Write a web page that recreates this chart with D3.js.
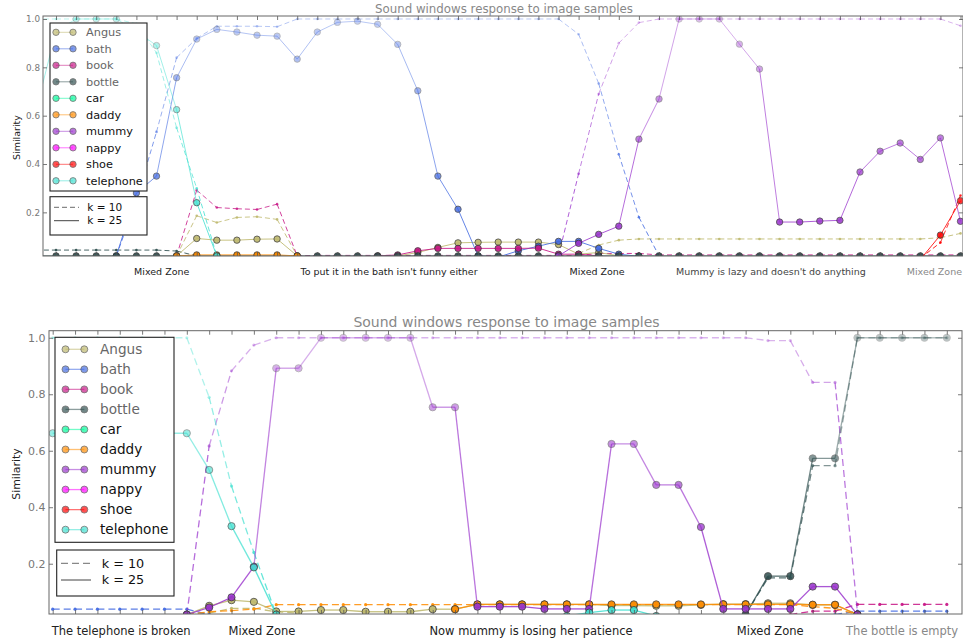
<!doctype html>
<html>
<head>
<meta charset="utf-8">
<script src="https://cdnjs.cloudflare.com/ajax/libs/d3/7.8.5/d3.min.js"></script>
<style>
  body { margin: 0; background: #fff; }
  svg { display: block; font-family: "DejaVu Sans", sans-serif; }
</style>
</head>
<body>
<svg width="963" height="644"></svg>
<script>
var _ = null;
var words = ["Angus", "bath", "book", "bottle", "car", "daddy", "mummy", "nappy", "shoe", "telephone"];
var wordColors = ["#bdb76b", "#4169e1", "#c71585", "#2f4f4f", "#00fa9a", "#ff8c00", "#9932cc", "#ff00ff", "#ff0000", "#40e0d0"];

// ---- top panel, samples -1..45 ----
var topLabels = ["Mixed Zone", "To put it in the bath isn't funny either", "Mixed Zone", "Mummy is lazy and doesn't do anything", "Mixed Zone"];
var topLabelAt = [5.26, 16.57, 26.92, 35.57, 43.7];

var topAngus10 = [_, _, _, _, _, _, _, .02, .186, .158,
  .179, .182, .171, .02, _, _, _, _, _, _,
  _, _, _, _, _, _, _, .03, .065, .085,
  .09, .09, .09, .09, .09, .09, .09, .09, .09, .09,
  .09, .09, .09, .09, .09, .095, .113];
var topAngus25 = [_, _, _, _, _, _, _, .02, .092, .085,
  .085, .089, .09, .02, _, _, _, _, .02, .034,
  .055, .074, .076, .077, .077, .077, .067, .027, .034, .02,
  _, _, _, _, _, _, _, _, _, _,
  _, _, _, _, _, _, _];
var topBath10 = [_, _, _, _, .02, .25, .533, .84, .92, .97,
  .97, .97, .968, 1, 1, 1, 1, 1, 1, 1,
  1, 1, 1, 1, 1, 1, 1, .937, .733, .44,
  .18, .02, _, _, _, _, _, _, _, _,
  _, _, _, _, _, _, _];
var topBath25 = [_, _, _, _, .02, .28, .35, .757, .917, .957,
  .946, .933, .929, .834, .946, .986, .991, .978, .895, .703,
  .35, .213, .02, .015, .041, .06, .08, .08, .051, .027,
  .018, _, _, _, _, _, _, _, _, _,
  _, _, _, _, _, _, _];
var topBook10 = [_, _, _, _, _, _, _, .02, .292, .22,
  .215, .212, .234, .02, .022, .022, .022, .022, .022, .022,
  .022, .022, .022, .022, .022, .022, .022, .022, .03, .03,
  .03, .024, .024, .024, .024, .024, .024, .024, .024, .024,
  .024, .024, .024, .024, .024, .024, .024];
var topBook25 = [_, _, _, _, _, _, _, _, _, _,
  _, _, _, _, _, _, _, .02, .024, .041,
  .051, .051, .051, .051, .051, .052, .027, .027, .02, _,
  _, _, _, _, _, _, _, _, _, _,
  _, _, _, _, _, _, _];
var topBottle10 = [.044, .044, .044, .044, .044, .044, .044, .04, .02, _,
  _, _, _, _, _, _, _, _, _, _,
  _, _, _, _, _, _, _, _, _, _,
  _, _, _, _, _, _, _, _, _, _,
  _, _, _, _, _, _, _];
var topBottle25 = [.02, .02, .02, .02, .02, .02, .02, .02, .02, .02,
  .02, .02, .02, .02, .02, .02, .02, .02, .02, .02,
  .02, .02, .02, .02, .02, .02, .02, .02, .02, .02,
  .02, .02, .02, .02, .02, .02, .02, .02, .02, .02,
  .02, .02, .02, .02, .02, .02, .02];
var topDaddy25 = [_, _, _, _, _, _, _, .02, .024, .024,
  .024, .024, .024, .02, _, _, _, _, _, _,
  _, _, _, _, _, _, _, _, _, _,
  _, _, _, _, _, _, _, _, _, _,
  _, _, _, _, _, _, _];
var topMummy10 = [_, _, _, _, _, _, _, _, _, _,
  _, _, _, _, _, _, _, _, _, _,
  _, _, _, _, _, _, .02, .36, .69, .9,
  .985, 1, 1, 1, 1, 1, 1, 1, 1, 1,
  1, 1, 1, 1, 1, 1, .972];
var topMummy25 = [_, _, _, _, _, _, _, _, _, _,
  _, _, _, _, _, _, _, _, _, _,
  _, _, _, _, _, _, .02, .072, .109, .143,
  .503, .669, 1, 1, 1, .896, .793, .16, .16, .164,
  .167, .367, .453, .487, .419, .508, .163];
var topShoe10 = [_, _, _, _, _, _, _, _, _, _,
  _, _, _, _, _, _, _, _, _, _,
  _, _, _, _, _, _, _, _, _, _,
  _, _, _, _, _, _, _, _, _, _,
  _, _, _, _, .01, .075, .27];
var topShoe25 = [_, _, _, _, _, _, _, _, _, _,
  _, _, _, _, _, _, _, _, _, _,
  _, _, _, _, _, _, _, _, _, _,
  _, _, _, _, _, _, _, _, _, _,
  _, _, _, _, .005, .106, .248];
var topTelephone10 = [1, 1, 1, 1, 1, .98, .86, .55, .3, .02,
  _, _, _, _, _, _, _, _, _, _,
  _, _, _, _, _, _, _, _, _, _,
  _, _, _, _, _, _, _, _, _, _,
  _, _, _, _, _, _, _];
var topTelephone25 = [.62, .95, 1, 1, 1, .95, .89, .625, .24, .02,
  _, _, _, _, _, _, _, _, _, _,
  _, _, _, _, _, _, _, _, _, _,
  _, _, _, _, _, _, _, _, _, _,
  _, _, _, _, _, _, _];

// ---- bottom panel, samples 0..40 ----
var botLabels = ["The telephone is broken", "Mixed Zone", "Now mummy is losing her patience", "Mixed Zone", "The bottle is empty"];
var botLabelAt = [3.06, 9.36, 21.4, 32.1, 38.0];

var botAngus10 = [_, _, _, _, _, _, .02, .025, .042, .042,
  .03, .025, _, _, _, _, _, _, _, _,
  _, _, _, _, _, _, _, _, _, _,
  _, _, _, _, _, _, _, _, _, _,
  _];
var botAngus25 = [_, _, _, _, _, _, .02, .051, .071, .065,
  .031, .031, .036, .036, .03, .03, .03, .039, .039, .056,
  .056, .056, .056, .056, .056, .052, .052, .051, .051, .054,
  .057, .057, .06, .06, .054, .054, .02, _, _, _,
  _];
var botBath10 = [.039, .039, .039, .039, .039, .039, .039, .02, _, _,
  _, _, _, _, _, _, _, _, _, _,
  _, _, _, _, _, _, _, _, _, _,
  _, _, _, _, _, .02, .032, .032, .032, .032,
  .032];
var botBook10 = [_, _, _, _, _, _, _, _, _, _,
  _, _, _, _, _, _, _, _, _, _,
  _, _, _, _, _, _, _, _, _, _,
  _, _, _, .02, .032, .032, .056, .056, .056, .056,
  .056];
var botBottle10 = [_, _, _, _, _, _, _, _, _, _,
  _, _, _, _, _, _, _, _, _, _,
  _, _, _, _, _, _, _, _, _, _,
  _, .02, .15, .15, .547, .547, 1, 1, 1, 1,
  1];
var botBottle25 = [_, _, _, _, _, _, _, _, _, _,
  _, _, _, _, _, _, _, _, _, _,
  _, _, _, _, _, _, _, _, _, _,
  _, .02, .156, .156, .573, .573, 1, 1, 1, 1,
  1];
var botDaddy10 = [_, _, _, _, _, _, .02, .03, .034, .039,
  .055, .055, .055, .055, .055, .055, .055, .055, .055, .055,
  .055, .055, .055, .055, .055, .055, .055, .055, .055, .055,
  .055, .055, .055, .055, .048, .042, .02, _, _, _,
  _];
var botDaddy25 = [_, _, _, _, _, _, _, _, _, _,
  _, _, _, _, _, _, _, _, .039, .056,
  .056, .056, .056, .056, .056, .056, .056, .056, .056, .056,
  .056, .056, .056, .056, .055, .055, .02, _, _, _,
  _];
var botMummy10 = [_, _, _, _, _, _, .02, .617, .883, .974,
  1, 1, 1, 1, 1, 1, 1, 1, 1, 1,
  1, 1, 1, 1, 1, 1, 1, 1, 1, 1,
  1, 1, .99, .99, .842, .842, .03, _, _, _,
  _];
var botMummy25 = [_, _, _, _, _, _, .02, .045, .081, .19,
  .892, .892, 1, 1, 1, 1, 1, .754, .754, .048,
  .048, .048, .04, .04, .04, .624, .624, .479, .479, .33,
  .04, .04, .04, .04, .119, .119, .02, _, _, _,
  _];
var botTelephone10 = [1, 1, 1, 1, 1, 1, 1, .789, .475, .24,
  .02, _, _, _, _, _, _, _, _, _,
  _, _, _, _, _, _, _, _, _, _,
  _, _, _, _, _, _, _, _, _, _,
  _];
var botTelephone25 = [.662, .662, .662, .662, .662, .662, .662, .532, .333, .187,
  .02, _, _, _, _, _, _, _, _, _,
  _, _, _, .015, .027, .036, .036, .015, _, _,
  _, _, _, _, _, _, _, _, _, _,
  _];

var yTicks = [0.2, 0.4, 0.6, 0.8, 1.0];

var svg = d3.select("svg");

// higher similarity -> paler mark
function markAlpha(v) { return Math.max(0.32, 0.95 - 0.63 * v); }
function lineAlpha(v) { return Math.max(0.32, 0.88 - 0.52 * v); }

function drawPanel(cfg) {
  var g = svg.append("g");
  var x = d3.scaleLinear().domain(cfg.xDomain).range([cfg.left, cfg.right]);
  var y = d3.scaleLinear().domain(cfg.yDomain).range([cfg.bottom, cfg.top]);

  g.append("clipPath").attr("id", cfg.id).append("rect")
    .attr("x", cfg.left).attr("y", cfg.top)
    .attr("width", cfg.right - cfg.left).attr("height", cfg.bottom - cfg.top);
  var plot = g.append("g").attr("clip-path", "url(#" + cfg.id + ")");

  // k = 10 first, then k = 25 on top
  var order = cfg.series.filter(s => s.k == 10).concat(cfg.series.filter(s => s.k == 25));
  order.forEach(s => {
    var color = wordColors[words.indexOf(s.word)];
    var pts = s.values.map((v, n) => ({ i: cfg.first + n, v: v }));
    var segs = d3.pairs(pts).filter(p => p[0].v != null && p[1].v != null);
    var sg = plot.append("g");
    sg.selectAll("line").data(segs).enter().append("line")
      .attr("x1", d => x(d[0].i)).attr("y1", d => y(d[0].v))
      .attr("x2", d => x(d[1].i)).attr("y2", d => y(d[1].v))
      .attr("stroke", color)
      .attr("stroke-opacity", d => lineAlpha((d[0].v + d[1].v) / 2))
      .attr("stroke-width", cfg.lineWidth)
      .attr("stroke-dasharray", s.k == 10 ? cfg.dash : null);
    sg.selectAll("circle").data(pts.filter(d => d.v != null)).enter().append("circle")
      .attr("cx", d => x(d.i)).attr("cy", d => y(d.v))
      .attr("r", s.k == 10 ? cfg.smallR : cfg.markerR)
      .attr("fill", color)
      .attr("stroke", s.k == 10 ? "none" : "#333")
      .attr("stroke-width", 0.8)
      .attr("opacity", d => markAlpha(d.v));
  });

  // inward ticks on all four sides
  var xt = d3.range(Math.ceil(cfg.xDomain[0]), Math.floor(cfg.xDomain[1]) + 1);
  g.append("g").attr("transform", "translate(0," + cfg.bottom + ")")
    .call(d3.axisBottom(x).tickValues(xt).tickSize(-4).tickFormat(""));
  g.append("g").attr("transform", "translate(0," + cfg.top + ")")
    .call(d3.axisTop(x).tickValues(xt).tickSize(-4).tickFormat(""));
  var yl = g.append("g").attr("transform", "translate(" + cfg.left + ",0)")
    .call(d3.axisLeft(y).tickValues(yTicks).tickSize(-4).tickPadding(cfg.tickPad).tickFormat(d3.format(".1f")));
  g.append("g").attr("transform", "translate(" + cfg.right + ",0)")
    .call(d3.axisRight(y).tickValues(yTicks).tickSize(-4).tickFormat(""));
  g.selectAll(".domain").remove();
  g.selectAll(".tick line").attr("stroke", "#555").attr("stroke-width", 0.8);
  yl.selectAll("text").attr("fill", "#777").style("font-size", cfg.tickFont + "px")
    .style("font-family", "DejaVu Sans");

  g.append("rect")
    .attr("x", cfg.left).attr("y", cfg.top)
    .attr("width", cfg.right - cfg.left).attr("height", cfg.bottom - cfg.top)
    .attr("fill", "none").attr("stroke", "#666").attr("stroke-width", 1);

  // title, axis label, zone labels
  g.append("text").attr("x", cfg.titleX).attr("y", cfg.titleY)
    .attr("text-anchor", "middle").attr("fill", "#888")
    .style("font-size", cfg.titleFont + "px").text("Sound windows response to image samples");
  g.append("text").attr("transform", "translate(" + cfg.ylabX + "," + cfg.ylabY + ") rotate(-90)")
    .attr("text-anchor", "middle").attr("fill", "#222")
    .style("font-size", cfg.ylabFont + "px").text("Similarity");
  g.selectAll(".zone").data(cfg.labels).enter().append("text")
    .attr("x", (d, n) => x(cfg.labelAt[n])).attr("y", cfg.labelY)
    .attr("text-anchor", "middle")
    .attr("fill", (d, n) => cfg.labelColors[n])
    .style("font-size", cfg.labelFont + "px").text(d => d);

  // word legend
  var L = cfg.legend;
  var lg = g.append("g");
  lg.append("rect").attr("x", L.x).attr("y", L.y).attr("width", L.w).attr("height", L.h)
    .attr("fill", "#fff").attr("stroke", "#222").attr("stroke-width", 1.1);
  var rows = lg.selectAll(".row").data(words).enter().append("g")
    .attr("transform", (d, n) => "translate(0," + (L.first + n * L.step) + ")");
  rows.append("line").attr("x1", L.hx1).attr("x2", L.hx2)
    .attr("stroke", (d, n) => wordColors[n]).attr("stroke-opacity", 0.55).attr("stroke-width", cfg.lineWidth);
  [L.hx1, L.hx2].forEach(cx => {
    rows.append("circle").attr("cx", cx).attr("r", L.r)
      .attr("fill", (d, n) => wordColors[n]).attr("stroke", "#333").attr("stroke-width", 0.8)
      .attr("opacity", 0.68);
  });
  rows.append("text").attr("x", L.tx).attr("dy", "0.35em")
    .attr("fill", (d, n) => n < 4 ? "#666" : "#111")
    .style("font-size", L.font + "px").text(d => d);

  // k legend
  var K = cfg.kLegend;
  var kg = g.append("g");
  kg.append("rect").attr("x", K.x).attr("y", K.y).attr("width", K.w).attr("height", K.h)
    .attr("fill", "#fff").attr("stroke", "#222").attr("stroke-width", 1.1);
  kg.append("line").attr("x1", K.hx1).attr("x2", K.hx2).attr("y1", K.y1).attr("y2", K.y1)
    .attr("stroke", "#888").attr("stroke-width", 1.2).attr("stroke-dasharray", cfg.dash);
  kg.append("line").attr("x1", K.hx1).attr("x2", K.hx2).attr("y1", K.y2).attr("y2", K.y2)
    .attr("stroke", "#111").attr("stroke-width", 0.8);
  kg.append("text").attr("x", K.tx).attr("y", K.y1).attr("dy", "0.35em")
    .style("font-size", K.font + "px").attr("fill", "#111").text("k = 10");
  kg.append("text").attr("x", K.tx).attr("y", K.y2).attr("dy", "0.35em")
    .style("font-size", K.font + "px").attr("fill", "#111").text("k = 25");
}

drawPanel({
  id: "clipTop", first: -1,
  left: 43, right: 963, top: 16, bottom: 256,
  xDomain: [-0.647, 45.124], yDomain: [0.0195, 1.0124],
  lineWidth: 1, dash: "5,3", markerR: 3.2, smallR: 1.3,
  tickPad: 3, tickFont: 8.8,
  titleX: 504, titleY: 13.3, titleFont: 11.8,
  ylabX: 19.5, ylabY: 137.5, ylabFont: 9.5,
  labels: topLabels, labelAt: topLabelAt, labelY: 275, labelFont: 9.5,
  labelColors: ["#222", "#222", "#222", "#444", "#888"],
  series: [
    { word: "Angus", k: 10, values: topAngus10 }, { word: "Angus", k: 25, values: topAngus25 },
    { word: "bath", k: 10, values: topBath10 }, { word: "bath", k: 25, values: topBath25 },
    { word: "book", k: 10, values: topBook10 }, { word: "book", k: 25, values: topBook25 },
    { word: "bottle", k: 10, values: topBottle10 }, { word: "bottle", k: 25, values: topBottle25 },
    { word: "daddy", k: 25, values: topDaddy25 },
    { word: "mummy", k: 10, values: topMummy10 }, { word: "mummy", k: 25, values: topMummy25 },
    { word: "shoe", k: 10, values: topShoe10 }, { word: "shoe", k: 25, values: topShoe25 },
    { word: "telephone", k: 10, values: topTelephone10 }, { word: "telephone", k: 25, values: topTelephone25 }
  ],
  legend: { x: 50, y: 23, w: 97, h: 168, first: 32.3, step: 16.5, hx1: 56, hx2: 73, r: 3.2, tx: 86, font: 11.3 },
  kLegend: { x: 50, y: 196.7, w: 97, h: 38.3, y1: 207.3, y2: 220.7, hx1: 54, hx2: 79, tx: 87.3, font: 10.5 }
});

drawPanel({
  id: "clipBot", first: 0,
  left: 49, right: 962, top: 330.7, bottom: 614,
  xDomain: [-0.1655, 40.68], yDomain: [0.022, 1.025],
  lineWidth: 1.3, dash: "7,4", markerR: 3.6, smallR: 1.6,
  tickPad: 3.5, tickFont: 11,
  titleX: 506.5, titleY: 326.7, titleFont: 14,
  ylabX: 20, ylabY: 474, ylabFont: 10.9,
  labels: botLabels, labelAt: botLabelAt, labelY: 635, labelFont: 11.5,
  labelColors: ["#222", "#222", "#222", "#222", "#888"],
  series: [
    { word: "Angus", k: 10, values: botAngus10 }, { word: "Angus", k: 25, values: botAngus25 },
    { word: "bath", k: 10, values: botBath10 },
    { word: "book", k: 10, values: botBook10 },
    { word: "bottle", k: 10, values: botBottle10 }, { word: "bottle", k: 25, values: botBottle25 },
    { word: "daddy", k: 10, values: botDaddy10 }, { word: "daddy", k: 25, values: botDaddy25 },
    { word: "mummy", k: 10, values: botMummy10 }, { word: "mummy", k: 25, values: botMummy25 },
    { word: "telephone", k: 10, values: botTelephone10 }, { word: "telephone", k: 25, values: botTelephone25 }
  ],
  legend: { x: 55, y: 337.3, w: 119, h: 205, first: 349.3, step: 20.04, hx1: 65.5, hx2: 84.3, r: 3.5, tx: 100, font: 13.6 },
  kLegend: { x: 56.7, y: 550, w: 117.3, h: 46, y1: 563.3, y2: 580, hx1: 61, hx2: 91, tx: 101.7, font: 12.8 }
});
</script>
</body>
</html>
